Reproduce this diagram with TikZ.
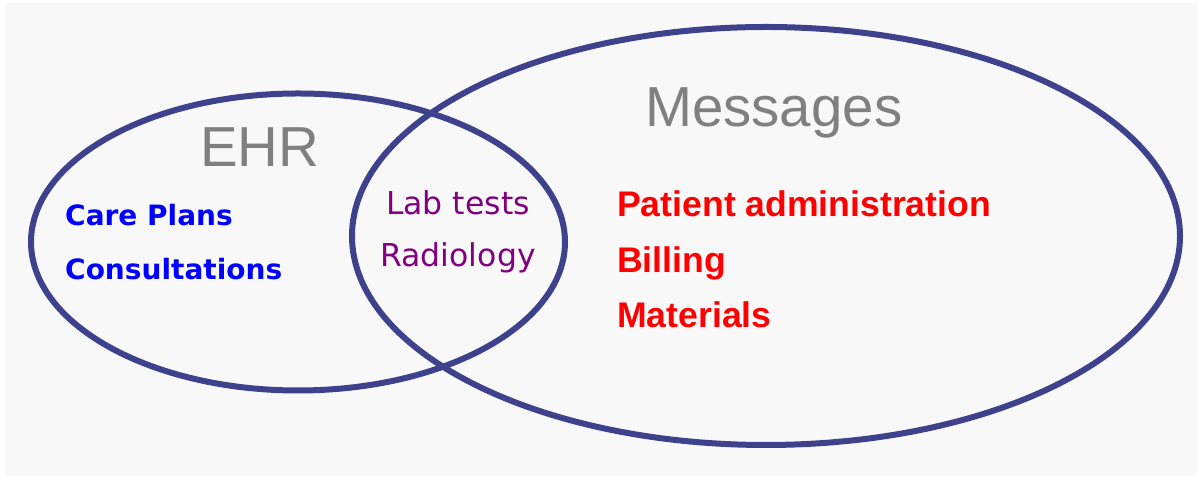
\documentclass[tikz,border=0pt]{standalone}
\usepackage{fontspec}
\setmainfont{Liberation Sans}
\newfontfamily\widesans{DejaVu Sans}

\definecolor{ringblue}{RGB}{62,66,140}
\definecolor{titlegray}{RGB}{128,128,128}
\definecolor{labpurple}{RGB}{128,0,128}
\definecolor{paper}{RGB}{248,248,248}

\begin{document}
\begin{tikzpicture}[x=1pt,y=1pt,
    ring/.style={draw=ringblue, line width=6pt},
    title/.style={anchor=base west, inner sep=0pt, text=titlegray,
        font=\fontsize{56.4}{60}\selectfont},
    ehritem/.style={anchor=base west, inner sep=0pt, text=blue,
        font=\widesans\bfseries\fontsize{28}{32}\selectfont},
    shareditem/.style={anchor=base, inner sep=0pt, text=labpurple,
        font=\widesans\fontsize{31.5}{34}\selectfont},
    msgitem/.style={anchor=base west, inner sep=0pt, text=red,
        font=\bfseries\fontsize{35.6}{40}\selectfont}]
    \useasboundingbox (0,0) rectangle (1201,478);
    \fill[white] (0,0) rectangle (1201,478);
    \fill[paper] (5,2) rectangle (1197,475);

    % the two sets
    \draw[ring] (298,236) ellipse (267 and 148.5);
    \draw[ring] (766,242) ellipse (414 and 209);

    % set titles
    \node[title] (ehr) at (200,311) {EHR};
    \node[title] (messages) at (645,351) {Messages};

    % EHR only
    \node[ehritem] (careplans) at (65,252) {Care Plans};
    \node[ehritem] (consult) at (65,198) {Consultations};

    % in both
    \node[shareditem] (labtests) at (458,263) {Lab tests};
    \node[shareditem] (radiology) at (458,211) {Radiology};

    % messages only
    \node[msgitem] (patadmin) at (617,261) {Patient administration};
    \node[msgitem] (billing) at (617,205) {Billing};
    \node[msgitem] (materials) at (617,150) {Materials};
\end{tikzpicture}
\end{document}
